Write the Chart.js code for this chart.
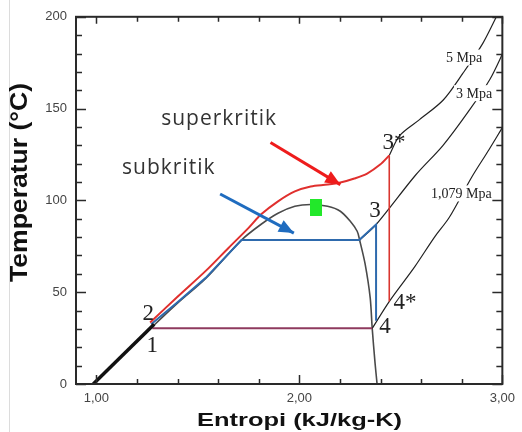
<!DOCTYPE html>
<html><head><meta charset="utf-8">
<script src="https://cdn.jsdelivr.net/npm/chart.js@4.4.1/dist/chart.umd.min.js"></script>
<style>html,body{margin:0;padding:0;background:#fff;overflow:hidden}canvas{display:block}</style>
</head><body>
<canvas id="c" width="522" height="432"></canvas>
<script>
// ---- axis ticks ----
const xTickVals = [1, 2, 3];
const xTickLabels = ['1,00', '2,00', '3,00'];
const yTickVals = [0, 50, 100, 150, 200];
const yTickLabels = ['0', '50', '100', '150', '200'];
const xTitle = 'Entropi (kJ/kg-K)';
const yTitle = 'Temperatur (°C)';

// ---- saturation dome (entropy kJ/kg-K, temperature °C) ----
const domeS = [0.983, 1.27, 1.40, 1.539, 1.715, 1.812, 1.895, 1.978, 2.056, 2.139, 2.202, 2.251, 2.285, 2.297, 2.324, 2.349, 2.359, 2.373, 2.383];
const domeT = [0, 30.5, 44, 57.5, 78.4, 87, 93, 96.8, 97.8, 96.8, 94.1, 88.6, 83.2, 78.4, 65.4, 47, 30.3, 11.4, 0];

// ---- pump / compressed liquid (1 -> 2) ----
const pumpS = [0.985, 1.285];
const pumpT = [0, 32.5];

// ---- condensation 4 -> 1 ----
const condS = [1.276, 2.359];
const condT = [30.3, 30.3];

// ---- subcritical cycle 2 -> 3 -> 4 ----
const subS = [1.27, 1.40, 1.539, 1.715, 2.295, 2.378, 2.378];
const subT = [32.5, 44.5, 57.8, 78.4, 78.4, 86.8, 34.5];

// ---- supercritical heating 2 -> 3* ----
const supS = [1.265, 1.40, 1.539, 1.651, 1.749, 1.812, 1.895, 1.978, 2.056, 2.139, 2.202, 2.271, 2.334, 2.398, 2.443];
const supT = [33.5, 47.5, 61.6, 74.1, 84.9, 92.4, 99.5, 104.9, 107.6, 108.6, 109.7, 111.9, 114.6, 119.5, 124.5];

// ---- supercritical expansion 3* -> 4* ----
const expS = [2.443, 2.443];
const expT = [124.5, 45];

// ---- isobars ----
const p5S = [2.443, 2.494, 2.592, 2.709, 2.806, 2.903, 2.975];
const p5T = [124.5, 135.3, 144, 154.7, 169.3, 185.4, 201];
const p3S = [2.297, 2.378, 2.572, 2.708, 2.841, 2.939, 3.01];
const p3T = [78.4, 86.8, 113.7, 130, 149.7, 166, 182];
const p1S = [2.359, 2.446, 2.568, 2.666, 2.739, 2.851, 2.934, 3.01];
const p1T = [30.3, 45.4, 63.8, 80, 90.8, 113, 127.6, 141.5];

// ---- critical point ----
const critS = [2.081];
const critT = [96];

// ---- arrows ----
const arrowRedS = [1.858, 2.202];
const arrowRedT = [131.5, 108.6];
const arrowBlueS = [1.61, 1.973];
const arrowBlueT = [103.5, 82.2];

// ---- annotations ----
const pointLabels = ['1', '2', '3', '3*', '4', '4*'];
const pointLabelS = [1.276, 1.256, 2.373, 2.466, 2.422, 2.52];
const pointLabelT = [20.5, 38.4, 94.1, 131.4, 30.8, 44.3];
const isoLabels = ['5 Mpa', '3 Mpa', '1,079 Mpa'];
const isoLabelS = [2.812, 2.861, 2.798];
const isoLabelT = [177.8, 158.4, 103.8];
const phaseLabels = ['superkritik', 'subkritik'];
const phaseLabelS = [1.605, 1.357];
const phaseLabelT = [141.2, 114.3];

function pts(S, T) { return S.map((s, i) => ({ x: s, y: T[i] })); }
function line(label, S, T, color, width, order, extra) {
  return Object.assign({
    label, data: pts(S, T), showLine: true, borderColor: color, backgroundColor: color,
    borderWidth: width, pointRadius: 0, pointHoverRadius: 0, tension: 0, fill: false, order
  }, extra || {});
}

const sq = document.createElement('canvas');
sq.width = 12; sq.height = 17;
const sg = sq.getContext('2d'); sg.fillStyle = '#22e82a'; sg.fillRect(0, 0, 12, 17);

const datasets = [
  line('dome', domeS, domeT, '#4a4a4a', 1.6, 20, { tension: 0.3 }),
  line('5 MPa', p5S, p5T, '#222', 1.2, 19, { tension: 0.3 }),
  line('3 MPa', p3S, p3T, '#222', 1.2, 19, { tension: 0.3 }),
  line('1,079 MPa', p1S, p1T, '#222', 1.2, 19, { tension: 0.3 }),
  line('condensation', condS, condT, '#8e3a5e', 2, 15),
  line('subkritik', subS, subT, '#2e6aad', 2, 12),
  line('superkritik', supS, supT, '#e0302e', 2, 11, { tension: 0.3 }),
  line('expansion', expS, expT, '#d9362f', 1.6, 11),
  line('pump', pumpS, pumpT, '#111', 3.5, 9),
  line('arrow red', arrowRedS, arrowRedT, '#ee1c1c', 3, 5, { arrow: true }),
  line('arrow blue', arrowBlueS, arrowBlueT, '#1f6cbf', 3, 5, { arrow: true }),
  { label: 'critical', data: pts(critS, critT), showLine: false, pointStyle: sq, pointRadius: 8, order: 2 }
];

const deco = {
  id: 'deco',
  afterDatasetsDraw(chart) {
    const { ctx, scales: { x, y } } = chart;
    chart.data.datasets.forEach((ds, i) => {
      if (!ds.arrow) return;
      const p = chart.getDatasetMeta(i).data;
      const a = p[p.length - 2], b = p[p.length - 1];
      const ang = Math.atan2(b.y - a.y, b.x - a.x);
      const L = 15, W = 6.5;
      ctx.save();
      ctx.fillStyle = ds.borderColor;
      ctx.beginPath();
      ctx.moveTo(b.x, b.y);
      ctx.lineTo(b.x - L * Math.cos(ang) + W * Math.sin(ang), b.y - L * Math.sin(ang) - W * Math.cos(ang));
      ctx.lineTo(b.x - L * Math.cos(ang) - W * Math.sin(ang), b.y - L * Math.sin(ang) + W * Math.cos(ang));
      ctx.closePath();
      ctx.fill();
      ctx.restore();
    });
    ctx.save();
    ctx.font = "14px 'Liberation Serif', 'Times New Roman', serif";
    ctx.textAlign = 'center'; ctx.textBaseline = 'middle';
    isoLabels.forEach((t, i) => {
      const px = x.getPixelForValue(isoLabelS[i]), py = y.getPixelForValue(isoLabelT[i]);
      const w = ctx.measureText(t).width;
      ctx.fillStyle = '#fff';
      ctx.fillRect(px - w / 2 - 2, py - 8, w + 4, 16);
      ctx.fillStyle = '#222';
      ctx.fillText(t, px, py + 1);
    });
    ctx.font = "23px 'Liberation Serif', 'Times New Roman', serif";
    pointLabels.forEach((t, i) => {
      ctx.fillStyle = '#222';
      ctx.fillText(t, x.getPixelForValue(pointLabelS[i]), y.getPixelForValue(pointLabelT[i]));
    });
    ctx.font = "21px 'Open Sans', sans-serif";
    ctx.letterSpacing = '1px';
    ctx.textBaseline = 'alphabetic';
    phaseLabels.forEach((t, i) => {
      ctx.fillStyle = '#333';
      ctx.fillText(t, x.getPixelForValue(phaseLabelS[i]), y.getPixelForValue(phaseLabelT[i]));
    });
    ctx.restore();
  },
  afterDraw(chart) {
    const { ctx, chartArea: a, scales: { x, y } } = chart;
    ctx.save();
    ctx.strokeStyle = '#dcdcdc'; ctx.lineWidth = 1;
    ctx.beginPath(); ctx.moveTo(9.5, 0); ctx.lineTo(9.5, 432); ctx.stroke();
    ctx.strokeStyle = '#2a2a2a'; ctx.lineWidth = 2;
    ctx.strokeRect(a.left, a.top, a.right - a.left, a.bottom - a.top);
    ctx.lineWidth = 1.5;
    ctx.beginPath();
    for (let v = 1; v <= 3.0001; v += 0.2) {
      const px = Math.round(x.getPixelForValue(v)) + 0.5;
      const major = Math.abs(v - Math.round(v)) < 1e-6;
      const L = major ? 9 : 5;
      ctx.moveTo(px, a.bottom); ctx.lineTo(px, a.bottom - L);
      ctx.moveTo(px, a.top); ctx.lineTo(px, a.top + (major ? 7 : 5));
    }
    for (let v = 0; v <= 200; v += 10) {
      const py = Math.round(y.getPixelForValue(v)) + 0.5;
      const L = v % 50 === 0 ? 10 : 6;
      ctx.moveTo(a.left, py); ctx.lineTo(a.left + L, py);
      ctx.moveTo(a.right, py); ctx.lineTo(a.right - L, py);
    }
    ctx.stroke();
    ctx.fillStyle = '#111';
    ctx.textAlign = 'center'; ctx.textBaseline = 'alphabetic';
    ctx.font = "bold 19px 'Liberation Sans', Arial, sans-serif";
    let w = ctx.measureText(xTitle).width;
    ctx.save(); ctx.translate(299.5, 426); ctx.scale(205 / w, 1); ctx.fillText(xTitle, 0, 0); ctx.restore();
    ctx.font = "bold 24px 'Liberation Sans', Arial, sans-serif";
    w = ctx.measureText(yTitle).width;
    ctx.save(); ctx.translate(27, 182.5); ctx.rotate(-Math.PI / 2); ctx.scale(199 / w, 1); ctx.fillText(yTitle, 0, 0); ctx.restore();
    ctx.restore();
  }
};

new Chart(document.getElementById('c'), {
  type: 'scatter',
  data: { datasets },
  options: {
    responsive: false, animation: false, devicePixelRatio: 1,
    layout: { padding: { top: 13, right: 14, left: 0, bottom: 0 } },
    plugins: { legend: { display: false }, tooltip: { enabled: false } },
    scales: {
      x: {
        type: 'linear', min: 0.9, max: 3.0,
        afterFit: s => { s.height = 48; },
        afterBuildTicks: s => { s.ticks = xTickVals.map(v => ({ value: v })); },
        grid: { display: false, drawTicks: false },
        border: { display: false },
        ticks: {
          padding: 7, color: '#444', maxRotation: 0, autoSkip: false,
          font: { family: "'Liberation Sans', Arial, sans-serif", size: 13 },
          callback: v => { const i = xTickVals.indexOf(v); return i >= 0 ? xTickLabels[i] : ''; }
        }
      },
      y: {
        type: 'linear', min: 0, max: 200,
        afterFit: s => { s.width = 76; },
        afterBuildTicks: s => { s.ticks = yTickVals.map(v => ({ value: v })); },
        grid: { display: false, drawTicks: false },
        border: { display: false },
        ticks: {
          padding: 9, color: '#444', autoSkip: false,
          font: { family: "'Liberation Sans', Arial, sans-serif", size: 13 },
          callback: v => { const i = yTickVals.indexOf(v); return i >= 0 ? yTickLabels[i] : ''; }
        }
      }
    }
  },
  plugins: [deco]
});
</script>
</body></html>
